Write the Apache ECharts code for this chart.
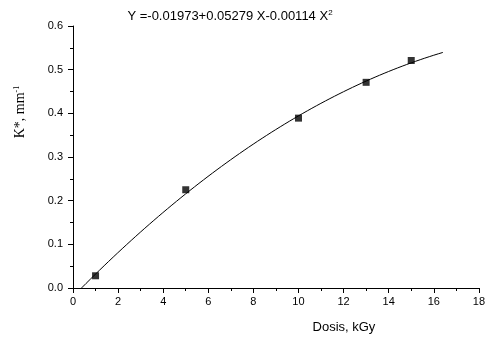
<!DOCTYPE html>
<html>
<head>
<meta charset="utf-8">
<script src="https://cdn.jsdelivr.net/npm/echarts@6/dist/echarts.min.js"></script>
<style>
  html, body { margin: 0; padding: 0; background: #fff; }
  #chart { width: 488px; height: 339px; }
</style>
</head>
<body>
<div id="chart"></div>
<script>
// Measured absorption coefficient vs. dose
const doseKGy = [1, 5, 10, 13, 15];
const kStar = [0.028, 0.225, 0.389, 0.471, 0.521];

// Quadratic fit: Y = c0 + c1 X + c2 X^2
const fitCoeffs = [-0.01973, 0.05279, -0.00114];
const fitRange = [0.38, 16.4];

const xTicks = [0, 2, 4, 6, 8, 10, 12, 14, 16, 18];
const yTicks = [0.0, 0.1, 0.2, 0.3, 0.4, 0.5, 0.6];

const fitCurve = [];
for (let i = 0; i <= 80; i++) {
  const x = fitRange[0] + (fitRange[1] - fitRange[0]) * i / 80;
  fitCurve.push([x, fitCoeffs[0] + fitCoeffs[1] * x + fitCoeffs[2] * x * x]);
}

const fmt = v => Math.abs(v).toFixed(5);
const titleText = 'Y =' + (fitCoeffs[0] < 0 ? '-' : '') + fmt(fitCoeffs[0]) +
  (fitCoeffs[1] < 0 ? '-' : '+') + fmt(fitCoeffs[1]) + ' X' +
  (fitCoeffs[2] < 0 ? '-' : '+') + fmt(fitCoeffs[2]) + ' X{sup|2}';

const chart = echarts.init(document.getElementById('chart'), null, { renderer: 'canvas' });
const axisColor = '#000';
chart.setOption({
  animation: false,
  backgroundColor: '#fff',
  title: {
    text: titleText,
    left: 225, top: 4, textAlign: 'center',
    textStyle: {
      fontFamily: 'Liberation Sans, Arial', fontSize: 13, fontWeight: 'normal', color: '#000',
      rich: { sup: { fontSize: 8, verticalAlign: 'top', padding: [0, 0, 6, 0], fontFamily: 'Liberation Sans', color: '#000' } }
    }
  },
  graphic: [{
    type: 'text',
    x: 20, y: 112,
    rotation: Math.PI / 2,
    style: {
      text: 'K*, mm{sup|-1}',
      fontFamily: 'Liberation Serif, Times New Roman', fontSize: 14, fill: '#000',
      textAlign: 'center', textVerticalAlign: 'middle',
      rich: { sup: { fontSize: 8, padding: [0, 0, 7, 0], fontFamily: 'Liberation Serif' } }
    }
  }],
  grid: { left: 73, right: 6, top: 26, bottom: 51 },
  xAxis: {
    type: 'value', min: xTicks[0], max: xTicks[xTicks.length - 1], interval: 2,
    name: 'Dosis, kGy', nameLocation: 'middle', nameGap: 33,
    nameTextStyle: { fontFamily: 'Liberation Sans, Arial', fontSize: 13, color: '#000', padding: [0, 0, 0, 136] },
    axisLine: { lineStyle: { color: axisColor, width: 1 } },
    axisTick: { show: true, inside: false, length: 5, lineStyle: { color: axisColor } },
    minorTick: { show: true, splitNumber: 2, length: 3, lineStyle: { color: axisColor } },
    axisLabel: { fontFamily: 'Liberation Sans, Arial', fontSize: 11, color: '#000', margin: 8 },
    splitLine: { show: false }
  },
  yAxis: {
    type: 'value', min: yTicks[0], max: yTicks[yTicks.length - 1], interval: 0.1,
    axisLine: { show: true, lineStyle: { color: axisColor, width: 1 } },
    axisTick: { show: true, inside: false, length: 5, lineStyle: { color: axisColor } },
    minorTick: { show: true, splitNumber: 2, length: 3, lineStyle: { color: axisColor } },
    axisLabel: { fontFamily: 'Liberation Sans, Arial', fontSize: 11, color: '#000', margin: 10,
      formatter: v => v.toFixed(1) },
    splitLine: { show: false }
  },
  series: [
    {
      type: 'line', data: fitCurve, showSymbol: false, smooth: false,
      lineStyle: { color: '#000', width: 1 }, z: 2
    },
    {
      type: 'scatter', data: doseKGy.map((d, i) => [d, kStar[i]]),
      symbol: 'rect', symbolSize: 7, itemStyle: { color: '#000' }, z: 3
    }
  ]
});
</script>
</body>
</html>
